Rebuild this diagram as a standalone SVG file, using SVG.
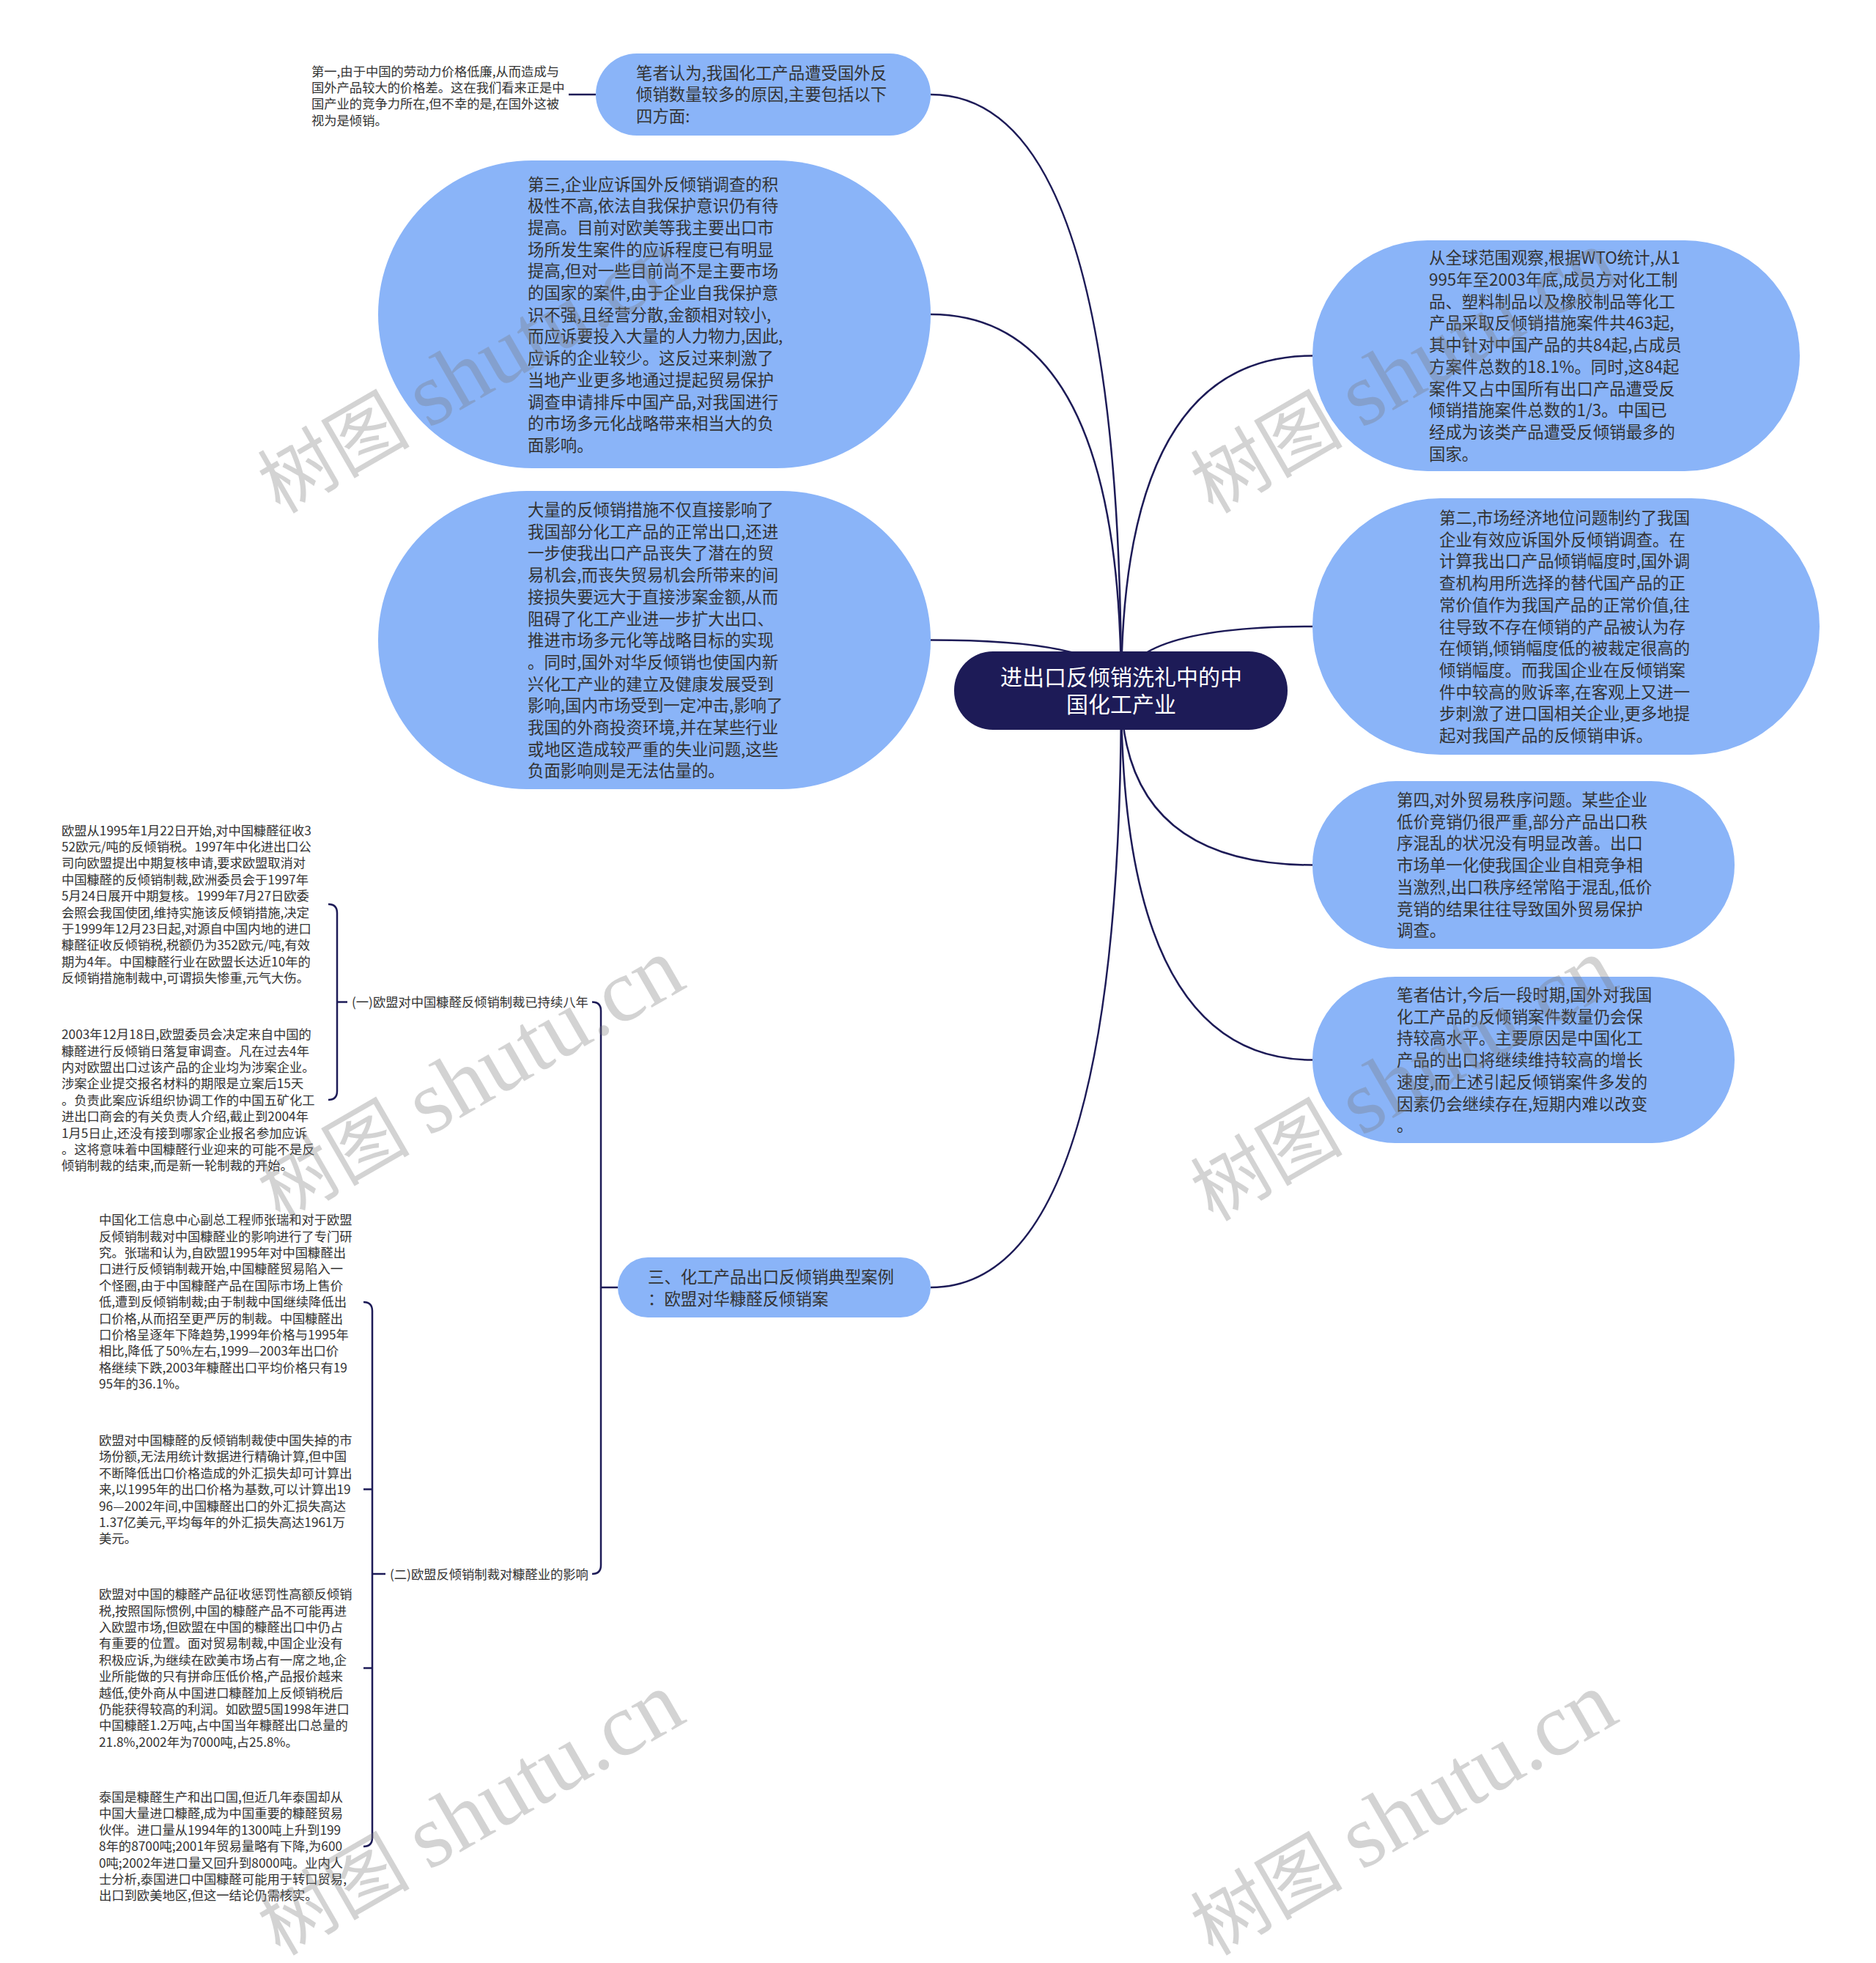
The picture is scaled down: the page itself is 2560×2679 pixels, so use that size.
<svg xmlns="http://www.w3.org/2000/svg" width="2560" height="2679" viewBox="0 0 2560 2679">
<style>
.n{fill:#8ab4f8}
.root{fill:#1d1b57}
.t{font-family:'Noto Sans CJK SC','Noto Sans',sans-serif;fill:#333}
.big{font-size:22.4px}
.sm{font-size:17.3px}
.rt{font-family:'Noto Sans CJK SC','Noto Sans',sans-serif;font-size:30px;fill:#fff}
.c{fill:none;stroke:#1d1b57;stroke-width:2.5}
.wm{font-family:'Liberation Serif','Noto Sans CJK SC',serif;font-size:104px;fill:#7a7a7a;fill-opacity:0.33}
.wl{font-size:122px}
</style>
<rect width="2560" height="2679" fill="#fff"/>
<g id="connectors">
<path class="c" d="M1530 943 Q1530 129 1270 129"/>
<path class="c" d="M1530 943 Q1530 429 1270 429"/>
<path class="c" d="M1530 943 Q1530 873.5 1270 873.5"/>
<path class="c" d="M1530 943 Q1530 1757 1270 1757"/>
<path class="c" d="M1530 943 Q1530 485.5 1791 485.5"/>
<path class="c" d="M1530 943 Q1530 855 1791 855"/>
<path class="c" d="M1530 943 Q1530 1180.5 1791 1180.5"/>
<path class="c" d="M1530 943 Q1530 1446.5 1791 1446.5"/>
<path class="c" d="M776 129 L813 129"/>
<path class="c" d="M808 1367.5 Q820 1367.5 820 1379.5 L820 2136 Q820 2148 808 2148 M820 1757 L843 1757"/>
<path class="c" d="M448 1234 Q460 1234 460 1246 L460 1489 Q460 1501 448 1501 M460 1367.5 L474 1367.5"/>
<path class="c" d="M496 1777 Q508 1777 508 1789 L508 2508 Q508 2520 496 2520 M496 2032.5 L508 2032.5 M496 2276.5 L508 2276.5 M508 2148 L526 2148"/>
</g>
<g id="root">
<rect class="root" x="1302" y="889" width="455" height="107" rx="53"/>
<text class="rt" text-anchor="middle"><tspan x="1530" y="935.4">进出口反倾销洗礼中的中</tspan><tspan x="1530" dy="37">国化工产业</tspan></text>
</g>
<g id="node-bizhe">
<rect class="n" x="813" y="73" width="457" height="112" rx="56"/>
<text class="t big"><tspan x="868" y="107.5">笔者认为,我国化工产品遭受国外反</tspan><tspan x="868" dy="29.7">倾销数量较多的原因,主要包括以下</tspan><tspan x="868" dy="29.7">四方面:</tspan></text>
</g>
<g id="text-diyi">
<text class="t sm"><tspan x="425" y="103.6">第一,由于中国的劳动力价格低廉,从而造成与</tspan><tspan x="425" dy="22.4">国外产品较大的价格差。这在我们看来正是中</tspan><tspan x="425" dy="22.4">国产业的竞争力所在,但不幸的是,在国外这被</tspan><tspan x="425" dy="22.4">视为是倾销。</tspan></text>
</g>
<g id="node-disan">
<rect class="n" x="516" y="219" width="754" height="420" rx="210"/>
<text class="t big"><tspan x="720" y="259.5">第三,企业应诉国外反倾销调查的积</tspan><tspan x="720" dy="29.7">极性不高,依法自我保护意识仍有待</tspan><tspan x="720" dy="29.7">提高。目前对欧美等我主要出口市</tspan><tspan x="720" dy="29.7">场所发生案件的应诉程度已有明显</tspan><tspan x="720" dy="29.7">提高,但对一些目前尚不是主要市场</tspan><tspan x="720" dy="29.7">的国家的案件,由于企业自我保护意</tspan><tspan x="720" dy="29.7">识不强,且经营分散,金额相对较小,</tspan><tspan x="720" dy="29.7">而应诉要投入大量的人力物力,因此,</tspan><tspan x="720" dy="29.7">应诉的企业较少。这反过来刺激了</tspan><tspan x="720" dy="29.7">当地产业更多地通过提起贸易保护</tspan><tspan x="720" dy="29.7">调查申请排斥中国产品,对我国进行</tspan><tspan x="720" dy="29.7">的市场多元化战略带来相当大的负</tspan><tspan x="720" dy="29.7">面影响。</tspan></text>
</g>
<g id="node-daliang">
<rect class="n" x="516" y="670" width="754" height="407" rx="203"/>
<text class="t big"><tspan x="720" y="704">大量的反倾销措施不仅直接影响了</tspan><tspan x="720" dy="29.7">我国部分化工产品的正常出口,还进</tspan><tspan x="720" dy="29.7">一步使我出口产品丧失了潜在的贸</tspan><tspan x="720" dy="29.7">易机会,而丧失贸易机会所带来的间</tspan><tspan x="720" dy="29.7">接损失要远大于直接涉案金额,从而</tspan><tspan x="720" dy="29.7">阻碍了化工产业进一步扩大出口、</tspan><tspan x="720" dy="29.7">推进市场多元化等战略目标的实现</tspan><tspan x="720" dy="29.7">。同时,国外对华反倾销也使国内新</tspan><tspan x="720" dy="29.7">兴化工产业的建立及健康发展受到</tspan><tspan x="720" dy="29.7">影响,国内市场受到一定冲击,影响了</tspan><tspan x="720" dy="29.7">我国的外商投资环境,并在某些行业</tspan><tspan x="720" dy="29.7">或地区造成较严重的失业问题,这些</tspan><tspan x="720" dy="29.7">负面影响则是无法估量的。</tspan></text>
</g>
<g id="node-quanqiu">
<rect class="n" x="1791" y="328" width="665" height="315" rx="157"/>
<text class="t big"><tspan x="1950" y="360.3">从全球范围观察,根据WTO统计,从1</tspan><tspan x="1950" dy="29.7">995年至2003年底,成员方对化工制</tspan><tspan x="1950" dy="29.7">品、塑料制品以及橡胶制品等化工</tspan><tspan x="1950" dy="29.7">产品采取反倾销措施案件共463起,</tspan><tspan x="1950" dy="29.7">其中针对中国产品的共84起,占成员</tspan><tspan x="1950" dy="29.7">方案件总数的18.1%。同时,这84起</tspan><tspan x="1950" dy="29.7">案件又占中国所有出口产品遭受反</tspan><tspan x="1950" dy="29.7">倾销措施案件总数的1/3。中国已</tspan><tspan x="1950" dy="29.7">经成为该类产品遭受反倾销最多的</tspan><tspan x="1950" dy="29.7">国家。</tspan></text>
</g>
<g id="node-dier">
<rect class="n" x="1791" y="680" width="692" height="350" rx="175"/>
<text class="t big"><tspan x="1964" y="715">第二,市场经济地位问题制约了我国</tspan><tspan x="1964" dy="29.7">企业有效应诉国外反倾销调查。在</tspan><tspan x="1964" dy="29.7">计算我出口产品倾销幅度时,国外调</tspan><tspan x="1964" dy="29.7">查机构用所选择的替代国产品的正</tspan><tspan x="1964" dy="29.7">常价值作为我国产品的正常价值,往</tspan><tspan x="1964" dy="29.7">往导致不存在倾销的产品被认为存</tspan><tspan x="1964" dy="29.7">在倾销,倾销幅度低的被裁定很高的</tspan><tspan x="1964" dy="29.7">倾销幅度。而我国企业在反倾销案</tspan><tspan x="1964" dy="29.7">件中较高的败诉率,在客观上又进一</tspan><tspan x="1964" dy="29.7">步刺激了进口国相关企业,更多地提</tspan><tspan x="1964" dy="29.7">起对我国产品的反倾销申诉。</tspan></text>
</g>
<g id="node-disi">
<rect class="n" x="1791" y="1066" width="576" height="229" rx="114"/>
<text class="t big"><tspan x="1906" y="1100">第四,对外贸易秩序问题。某些企业</tspan><tspan x="1906" dy="29.7">低价竞销仍很严重,部分产品出口秩</tspan><tspan x="1906" dy="29.7">序混乱的状况没有明显改善。出口</tspan><tspan x="1906" dy="29.7">市场单一化使我国企业自相竞争相</tspan><tspan x="1906" dy="29.7">当激烈,出口秩序经常陷于混乱,低价</tspan><tspan x="1906" dy="29.7">竞销的结果往往导致国外贸易保护</tspan><tspan x="1906" dy="29.7">调查。</tspan></text>
</g>
<g id="node-guji">
<rect class="n" x="1791" y="1333" width="576" height="227" rx="113"/>
<text class="t big"><tspan x="1906" y="1366">笔者估计,今后一段时期,国外对我国</tspan><tspan x="1906" dy="29.7">化工产品的反倾销案件数量仍会保</tspan><tspan x="1906" dy="29.7">持较高水平。主要原因是中国化工</tspan><tspan x="1906" dy="29.7">产品的出口将继续维持较高的增长</tspan><tspan x="1906" dy="29.7">速度,而上述引起反倾销案件多发的</tspan><tspan x="1906" dy="29.7">因素仍会继续存在,短期内难以改变</tspan><tspan x="1906" dy="29.7">。</tspan></text>
</g>
<g id="node-san">
<rect class="n" x="843" y="1716" width="427" height="82" rx="41"/>
<text class="t big"><tspan x="884" y="1750.5">三、化工产品出口反倾销典型案例</tspan><tspan x="884" dy="30">：欧盟对华糠醛反倾销案</tspan></text>
</g>
<g id="label-yi">
<text class="t sm" x="480" y="1373.6">(一)欧盟对中国糠醛反倾销制裁已持续八年</text>
</g>
<g id="label-er">
<text class="t sm" x="532" y="2154.6">(二)欧盟反倾销制裁对糠醛业的影响</text>
</g>
<g id="text-a">
<text class="t sm"><tspan x="84" y="1139.6">欧盟从1995年1月22日开始,对中国糠醛征收3</tspan><tspan x="84" dy="22.4">52欧元/吨的反倾销税。1997年中化进出口公</tspan><tspan x="84" dy="22.4">司向欧盟提出中期复核申请,要求欧盟取消对</tspan><tspan x="84" dy="22.4">中国糠醛的反倾销制裁,欧洲委员会于1997年</tspan><tspan x="84" dy="22.4">5月24日展开中期复核。1999年7月27日欧委</tspan><tspan x="84" dy="22.4">会照会我国使团,维持实施该反倾销措施,决定</tspan><tspan x="84" dy="22.4">于1999年12月23日起,对源自中国内地的进口</tspan><tspan x="84" dy="22.4">糠醛征收反倾销税,税额仍为352欧元/吨,有效</tspan><tspan x="84" dy="22.4">期为4年。中国糠醛行业在欧盟长达近10年的</tspan><tspan x="84" dy="22.4">反倾销措施制裁中,可谓损失惨重,元气大伤。</tspan></text>
</g>
<g id="text-b">
<text class="t sm"><tspan x="84" y="1418.2">2003年12月18日,欧盟委员会决定来自中国的</tspan><tspan x="84" dy="22.4">糠醛进行反倾销日落复审调查。凡在过去4年</tspan><tspan x="84" dy="22.4">内对欧盟出口过该产品的企业均为涉案企业。</tspan><tspan x="84" dy="22.4">涉案企业提交报名材料的期限是立案后15天</tspan><tspan x="84" dy="22.4">。负责此案应诉组织协调工作的中国五矿化工</tspan><tspan x="84" dy="22.4">进出口商会的有关负责人介绍,截止到2004年</tspan><tspan x="84" dy="22.4">1月5日止,还没有接到哪家企业报名参加应诉</tspan><tspan x="84" dy="22.4">。这将意味着中国糠醛行业迎来的可能不是反</tspan><tspan x="84" dy="22.4">倾销制裁的结束,而是新一轮制裁的开始。</tspan></text>
</g>
<g id="text-c">
<text class="t sm"><tspan x="135" y="1671.2">中国化工信息中心副总工程师张瑞和对于欧盟</tspan><tspan x="135" dy="22.4">反倾销制裁对中国糠醛业的影响进行了专门研</tspan><tspan x="135" dy="22.4">究。张瑞和认为,自欧盟1995年对中国糠醛出</tspan><tspan x="135" dy="22.4">口进行反倾销制裁开始,中国糠醛贸易陷入一</tspan><tspan x="135" dy="22.4">个怪圈,由于中国糠醛产品在国际市场上售价</tspan><tspan x="135" dy="22.4">低,遭到反倾销制裁;由于制裁中国继续降低出</tspan><tspan x="135" dy="22.4">口价格,从而招至更严厉的制裁。中国糠醛出</tspan><tspan x="135" dy="22.4">口价格呈逐年下降趋势,1999年价格与1995年</tspan><tspan x="135" dy="22.4">相比,降低了50%左右,1999—2003年出口价</tspan><tspan x="135" dy="22.4">格继续下跌,2003年糠醛出口平均价格只有19</tspan><tspan x="135" dy="22.4">95年的36.1%。</tspan></text>
</g>
<g id="text-d">
<text class="t sm"><tspan x="135" y="1972">欧盟对中国糠醛的反倾销制裁使中国失掉的市</tspan><tspan x="135" dy="22.4">场份额,无法用统计数据进行精确计算,但中国</tspan><tspan x="135" dy="22.4">不断降低出口价格造成的外汇损失却可计算出</tspan><tspan x="135" dy="22.4">来,以1995年的出口价格为基数,可以计算出19</tspan><tspan x="135" dy="22.4">96—2002年间,中国糠醛出口的外汇损失高达</tspan><tspan x="135" dy="22.4">1.37亿美元,平均每年的外汇损失高达1961万</tspan><tspan x="135" dy="22.4">美元。</tspan></text>
</g>
<g id="text-e">
<text class="t sm"><tspan x="135" y="2182.2">欧盟对中国的糠醛产品征收惩罚性高额反倾销</tspan><tspan x="135" dy="22.4">税,按照国际惯例,中国的糠醛产品不可能再进</tspan><tspan x="135" dy="22.4">入欧盟市场,但欧盟在中国的糠醛出口中仍占</tspan><tspan x="135" dy="22.4">有重要的位置。面对贸易制裁,中国企业没有</tspan><tspan x="135" dy="22.4">积极应诉,为继续在欧美市场占有一席之地,企</tspan><tspan x="135" dy="22.4">业所能做的只有拼命压低价格,产品报价越来</tspan><tspan x="135" dy="22.4">越低,使外商从中国进口糠醛加上反倾销税后</tspan><tspan x="135" dy="22.4">仍能获得较高的利润。如欧盟5国1998年进口</tspan><tspan x="135" dy="22.4">中国糠醛1.2万吨,占中国当年糠醛出口总量的</tspan><tspan x="135" dy="22.4">21.8%,2002年为7000吨,占25.8%。</tspan></text>
</g>
<g id="text-f">
<text class="t sm"><tspan x="135" y="2459">泰国是糠醛生产和出口国,但近几年泰国却从</tspan><tspan x="135" dy="22.4">中国大量进口糠醛,成为中国重要的糠醛贸易</tspan><tspan x="135" dy="22.4">伙伴。进口量从1994年的1300吨上升到199</tspan><tspan x="135" dy="22.4">8年的8700吨;2001年贸易量略有下降,为600</tspan><tspan x="135" dy="22.4">0吨;2002年进口量又回升到8000吨。业内人</tspan><tspan x="135" dy="22.4">士分析,泰国进口中国糠醛可能用于转口贸易,</tspan><tspan x="135" dy="22.4">出口到欧美地区,但这一结论仍需核实。</tspan></text>
</g>
<g id="watermarks">
<text class="wm" x="382" y="702" transform="rotate(-30 382 702)">树图 <tspan class="wl">shutu.cn</tspan></text>
<text class="wm" x="1655" y="702" transform="rotate(-30 1655 702)">树图 <tspan class="wl">shutu.cn</tspan></text>
<text class="wm" x="382" y="1668" transform="rotate(-30 382 1668)">树图 <tspan class="wl">shutu.cn</tspan></text>
<text class="wm" x="1655" y="1668" transform="rotate(-30 1655 1668)">树图 <tspan class="wl">shutu.cn</tspan></text>
<text class="wm" x="382" y="2670" transform="rotate(-30 382 2670)">树图 <tspan class="wl">shutu.cn</tspan></text>
<text class="wm" x="1655" y="2670" transform="rotate(-30 1655 2670)">树图 <tspan class="wl">shutu.cn</tspan></text>
</g>
</svg>
